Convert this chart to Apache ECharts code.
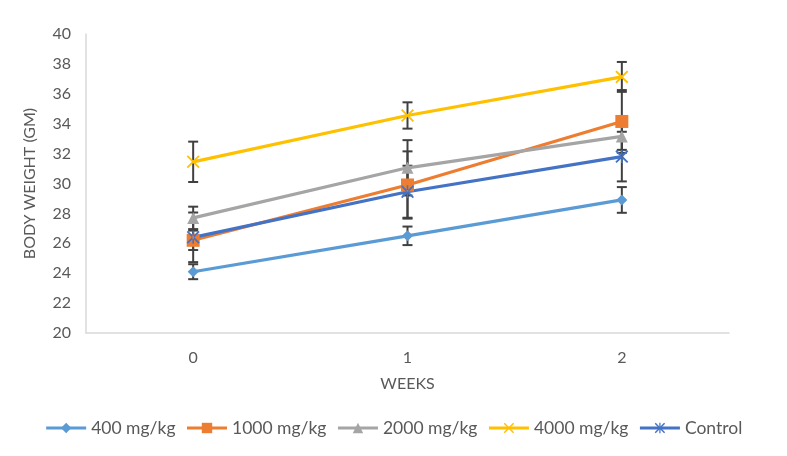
<!DOCTYPE html>
<html>
<head>
<meta charset="utf-8">
<script src="https://cdn.jsdelivr.net/npm/echarts@6/dist/echarts.min.js"></script>
<style>html,body{margin:0;padding:0;background:#fff}#c{width:787px;height:456px}</style>
</head>
<body>
<div id="c"></div>
<script>
var weeks = ['0', '1', '2'];
var seriesNames = ['400 mg/kg', '1000 mg/kg', '2000 mg/kg', '4000 mg/kg', 'Control'];
var mg400 = [24.1, 26.5, 28.9];
var mg1000 = [26.2, 29.9, 34.15];
var mg2000 = [27.7, 31.05, 33.15];
var mg4000 = [31.45, 34.55, 37.13];
var control = [26.4, 29.45, 31.8];
var err400 = [0.5, 0.62, 0.86];
var err1000 = [0.65, 2.25, 2.1];
var err2000 = [0.75, 1.85, 0.9];
var err4000 = [1.35, 0.88, 1.0];
var errControl = [1.66, 1.74, 1.66];
var yTicks = [20, 22, 24, 26, 28, 30, 32, 34, 36, 38, 40];

var values = [mg400, mg1000, mg2000, mg4000, control];
var errs = [err400, err1000, err2000, err4000, errControl];
var colors = ['#5B9BD5', '#ED7D31', '#A5A5A5', '#FFC000', '#4472C4'];
var xPath = 'path://M0,1L1,0L5,4L9,0L10,1L6,5L10,9L9,10L5,6L1,10L0,9L4,5Z';
var starPath = 'path://M0,1L1,0L5,4L9,0L10,1L6,5L10,9L9,10L5,6L1,10L0,9L4,5Z M4.4,0L4.4,10L5.6,10L5.6,0Z';
var symbols = ['diamond', 'rect', 'triangle', xPath, starPath];
var sizes = [11, 13, 12, 13, 13];
var font = 'Lato, "Open Sans", sans-serif';

var errData = [];
for (var s = 0; s < values.length; s++) {
  for (var i = 0; i < weeks.length; i++) {
    errData.push([i, values[s][i] - errs[s][i], values[s][i] + errs[s][i]]);
  }
}

var series = [{
  type: 'custom',
  name: 'err',
  z: 1,
  silent: true,
  data: errData,
  renderItem: function (params, api) {
    var x = api.value(0);
    var lo = api.coord([x, api.value(1)]);
    var hi = api.coord([x, api.value(2)]);
    var hw = 5;
    var st = { stroke: '#404040', lineWidth: 2 };
    return {
      type: 'group',
      children: [
        { type: 'line', shape: { x1: lo[0], y1: lo[1], x2: hi[0], y2: hi[1] }, style: st },
        { type: 'line', shape: { x1: lo[0] - hw, y1: lo[1], x2: lo[0] + hw, y2: lo[1] }, style: st },
        { type: 'line', shape: { x1: hi[0] - hw, y1: hi[1], x2: hi[0] + hw, y2: hi[1] }, style: st }
      ]
    };
  }
}];
for (var k = 0; k < values.length; k++) {
  series.push({
    type: 'line',
    name: seriesNames[k],
    data: values[k],
    z: 3,
    symbol: symbols[k],
    symbolSize: sizes[k],
    showAllSymbol: true,
    lineStyle: { color: colors[k], width: 3.2 },
    itemStyle: { color: colors[k], borderColor: colors[k], borderWidth: 0 },
    emphasis: { disabled: true }
  });
}

var chart = echarts.init(document.getElementById('c'), null, { renderer: 'canvas' });
chart.setOption({
  animation: false,
  backgroundColor: '#fff',
  grid: { left: 86, right: 58, top: 34, bottom: 123 },
  legend: {
    data: seriesNames,
    bottom: 14,
    left: 'center',
    itemWidth: 40,
    itemHeight: 13,
    itemGap: 10,
    lineStyle: { width: 3 },
    textStyle: { color: '#595959', fontSize: 17.5, fontFamily: font }
  },
  xAxis: {
    type: 'category',
    data: weeks,
    boundaryGap: true,
    name: 'WEEKS',
    nameLocation: 'middle',
    nameGap: 43,
    nameTextStyle: { color: '#595959', fontSize: 16, fontFamily: font },
    axisLine: { lineStyle: { color: '#D9D9D9', width: 1.5 } },
    axisTick: { show: false },
    axisLabel: { color: '#595959', fontSize: 16, fontFamily: font, margin: 17 }
  },
  yAxis: {
    type: 'value',
    min: yTicks[0],
    max: yTicks[yTicks.length - 1],
    interval: yTicks[1] - yTicks[0],
    name: 'BODY WEIGHT (GM)',
    nameLocation: 'middle',
    nameGap: 48,
    nameTextStyle: { color: '#595959', fontSize: 16, fontFamily: font },
    axisLine: { show: true, lineStyle: { color: '#D9D9D9', width: 1.5 } },
    axisTick: { show: false },
    splitLine: { show: false },
    axisLabel: { color: '#595959', fontSize: 16, fontFamily: font, margin: 15 }
  },
  series: series
});
</script>
</body>
</html>
